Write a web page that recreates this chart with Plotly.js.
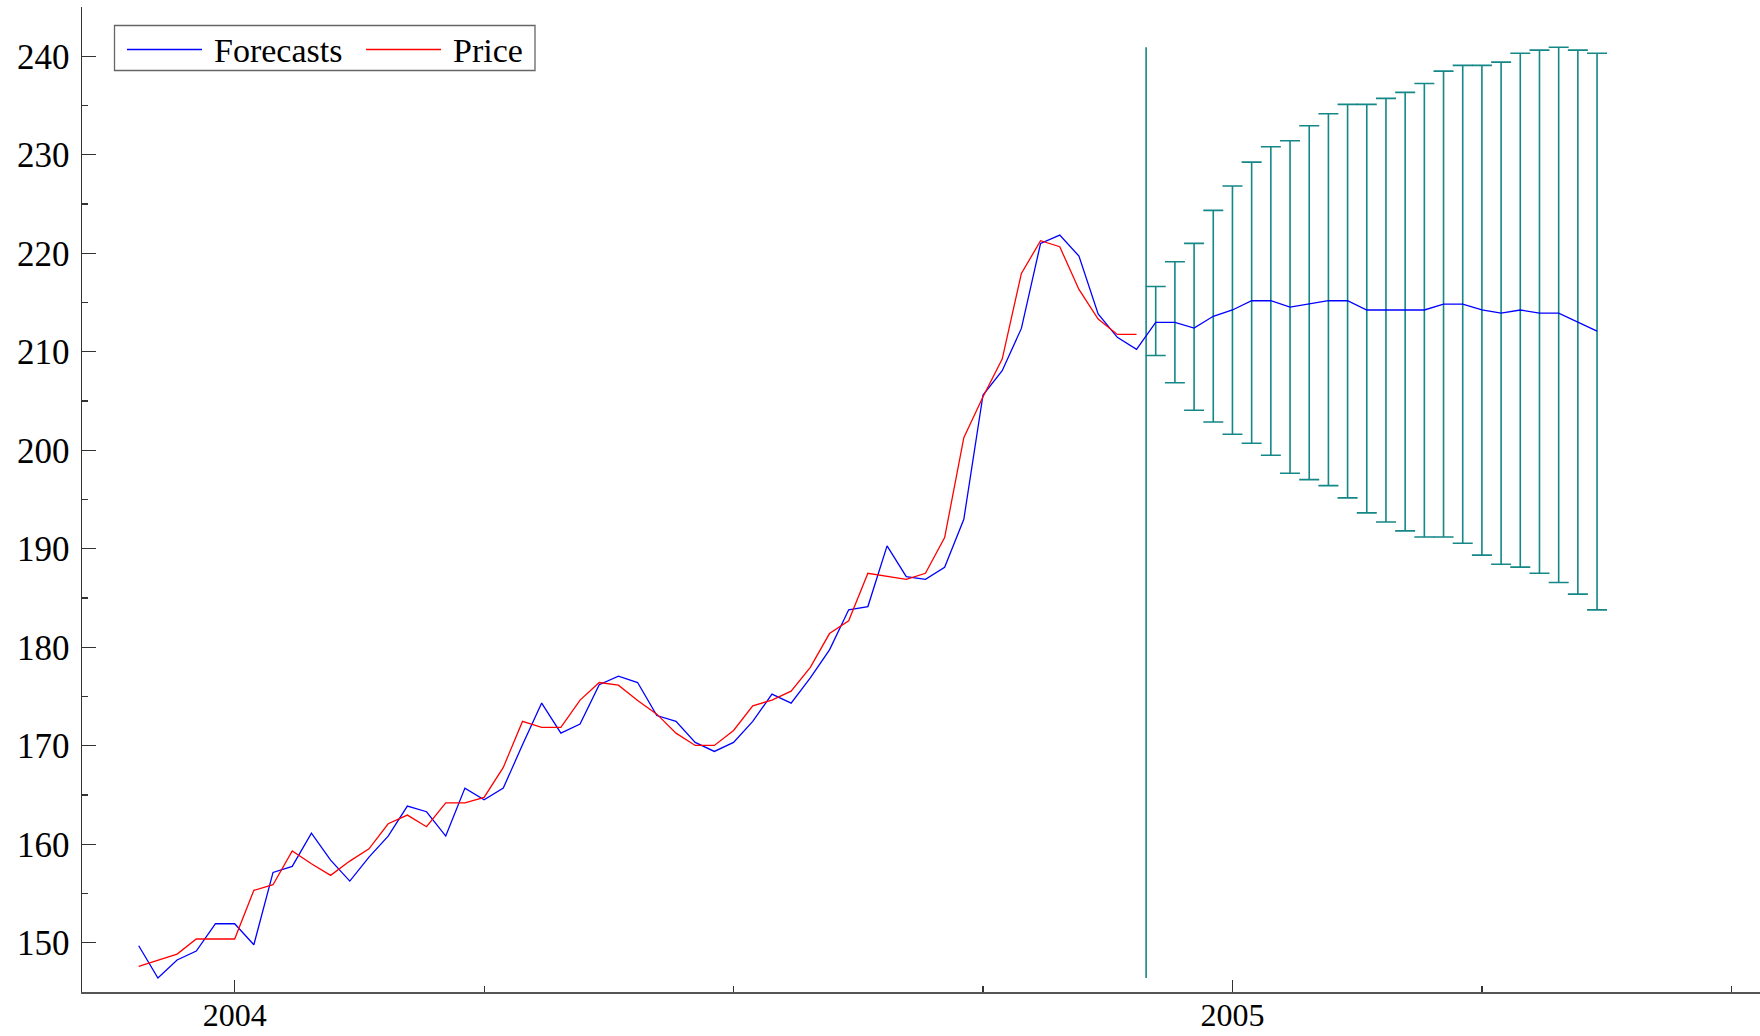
<!DOCTYPE html>
<html>
<head>
<meta charset="utf-8">
<script src="https://cdn.plot.ly/plotly-3.0.1.min.js"></script>
<style>html,body{margin:0;padding:0;background:#fff;}#chart{width:1760px;height:1036px;}</style>
</head>
<body>
<div id="chart"></div>
<script>
// Weekly data, 52 weeks per year; history starts at 2003 week 48
const startYear = 2003;
const startWeek = 48;
const weeksPerYear = 52;

// Actual price (history, 2003w48 .. 2004w48)
const price = [
  147.60, 148.25, 148.85, 150.38, 150.38, 150.38, 155.32, 155.89, 159.31, 158.02,
  156.84, 158.29, 159.54, 162.08, 162.96, 161.78, 164.21, 164.21, 164.75, 167.80,
  172.47, 171.86, 171.86, 174.63, 176.42, 176.15, 174.60, 173.21, 171.28, 170.03,
  170.03, 171.55, 174.06, 174.63, 175.54, 177.95, 181.39, 182.68, 187.51, 187.21,
  186.90, 187.51, 191.13, 201.28, 205.44, 209.26, 217.95, 221.27, 220.66, 216.33,
  213.32, 211.76, 211.76
];

// One-step forecasts over the history period
const fitted = [
  149.70, 146.42, 148.25, 149.16, 151.93, 151.93, 149.80, 157.14, 157.75, 161.13,
  158.39, 156.26, 158.70, 160.83, 163.87, 163.30, 160.83, 165.70, 164.52, 165.70,
  170.10, 174.33, 171.28, 172.20, 176.19, 177.07, 176.42, 173.07, 172.47, 170.34,
  169.42, 170.34, 172.47, 175.24, 174.33, 176.90, 179.74, 183.80, 184.13, 190.29,
  187.17, 186.90, 188.12, 192.99, 205.61, 208.08, 212.37, 221.00, 221.84, 219.71,
  213.83, 211.46, 210.24
];

// Out-of-sample forecasts (2004w49 .. 2005w20) with error bands
const forecast = [
  212.99, 212.99, 212.41, 213.60, 214.24, 215.18, 215.18, 214.54, 214.85, 215.18,
  215.18, 214.24, 214.24, 214.24, 214.24, 214.84, 214.84, 214.24, 213.93, 214.24,
  213.93, 213.93, 213.02, 212.10
];
const fcUpper = [
  216.62, 219.14, 221.00, 224.35, 226.82, 229.25, 230.81, 231.42, 232.94, 234.16,
  235.11, 235.11, 235.72, 236.33, 237.24, 238.49, 239.07, 239.07, 239.40, 240.31,
  240.62, 240.92, 240.62, 240.31
];
const fcLower = [
  209.62, 206.86, 204.06, 202.87, 201.62, 200.71, 199.49, 197.67, 197.02, 196.41,
  195.16, 193.64, 192.72, 191.81, 191.20, 191.20, 190.56, 189.35, 188.43, 188.13,
  187.52, 186.57, 185.39, 183.79
];

const xTicks = [2004, 2005];
const yTicks = [150, 160, 170, 180, 190, 200, 210, 220, 230, 240];
const seriesNames = ['Forecasts', 'Price'];
const seriesColors = ['#0000ff', '#ff0000'];

// time index -> decimal year
const x0 = startYear + (startWeek - 1) / weeksPerYear;
const tx = i => x0 + i / weeksPerYear;
const xHist = price.map((_, i) => tx(i));
const xFc = forecast.map((_, i) => tx(price.length + i));
const teal = 'rgb(20,135,135)';

const allVals = fitted.concat(price, fcUpper, fcLower);
const xBreak = (xHist[xHist.length - 1] + xFc[0]) / 2;

const traces = [
  {
    x: xFc, y: forecast, type: 'scatter', mode: 'markers',
    marker: {size: 1, color: 'rgba(0,0,0,0)'},
    error_y: {
      type: 'data', symmetric: false,
      array: fcUpper.map((u, i) => u - forecast[i]),
      arrayminus: fcLower.map((l, i) => forecast[i] - l),
      color: teal, thickness: 1.6, width: 10
    },
    showlegend: false, hoverinfo: 'skip'
  },
  {
    x: [xBreak, xBreak], y: [Math.min(...allVals), Math.max(...allVals)],
    type: 'scatter', mode: 'lines', line: {color: teal, width: 1.6},
    showlegend: false, hoverinfo: 'skip'
  },
  {
    x: xHist.concat(xFc), y: fitted.concat(forecast), name: seriesNames[0],
    type: 'scatter', mode: 'lines', line: {color: seriesColors[0], width: 1.3}
  },
  {
    x: xHist, y: price, name: seriesNames[1],
    type: 'scatter', mode: 'lines', line: {color: seriesColors[1], width: 1.3}
  }
];

// Boxed legend drawn in the style of the original (long line samples)
const plotL = 82, plotW = 1678, plotT = 7, plotH = 985;
const px = v => (v - plotL) / plotW;
const py = v => 1 - (v - plotT) / plotH;
const legendRowY = 50.5;
const legendItems = [
  {name: seriesNames[0], color: seriesColors[0], lineFrom: 127, lineTo: 202, textAt: 213},
  {name: seriesNames[1], color: seriesColors[1], lineFrom: 366, lineTo: 441, textAt: 452}
];
const shapes = [{
  type: 'rect', xref: 'paper', yref: 'paper',
  x0: px(114.5), x1: px(535), y0: py(70.5), y1: py(25.5),
  line: {color: '#666', width: 1.3}, fillcolor: 'rgba(255,255,255,0)'
}];
const annotations = [];
legendItems.forEach(it => {
  shapes.push({
    type: 'line', xref: 'paper', yref: 'paper',
    x0: px(it.lineFrom), x1: px(it.lineTo), y0: py(legendRowY - 1), y1: py(legendRowY - 1),
    line: {color: it.color, width: 1.3}
  });
  annotations.push({
    xref: 'paper', yref: 'paper', x: px(it.textAt), y: py(legendRowY),
    xanchor: 'left', yanchor: 'middle', showarrow: false, text: it.name,
    font: {size: 34, color: '#000'}, borderpad: 0
  });
});

const layout = {
  width: 1760, height: 1036,
  margin: {l: 82, r: 0, t: 7, b: 44, pad: 0},
  paper_bgcolor: '#ffffff', plot_bgcolor: '#ffffff',
  font: {family: '"Liberation Serif", "Times New Roman", serif', size: 34, color: '#000'},
  showlegend: false,
  shapes: shapes,
  annotations: annotations,
  xaxis: {
    range: [2003.847, 2005.5287], tickmode: 'array', tickvals: xTicks,
    ticktext: xTicks.map(String),
    ticks: 'inside', ticklen: 12, tickwidth: 1.2, tickcolor: '#333',
    minor: {dtick: 0.25, tick0: 2004, ticks: 'inside', ticklen: 6, tickwidth: 1.2, tickcolor: '#333'},
    showline: true, linecolor: '#555', linewidth: 2, showgrid: false, zeroline: false,
    ticklabelstandoff: -6, tickfont: {size: 32}
  },
  yaxis: {
    range: [145, 245], tickmode: 'array', tickvals: yTicks,
    ticks: 'inside', ticklen: 14, tickwidth: 1.2, tickcolor: '#333',
    minor: {dtick: 5, tick0: 145, ticks: 'inside', ticklen: 6, tickwidth: 1.2, tickcolor: '#333'},
    showline: true, linecolor: '#333', linewidth: 1.5, showgrid: false, zeroline: false,
    ticklabelstandoff: 4, tickfont: {size: 35}
  }
};

Plotly.newPlot('chart', traces, layout, {staticPlot: true, displayModeBar: false});
</script>
</body>
</html>
